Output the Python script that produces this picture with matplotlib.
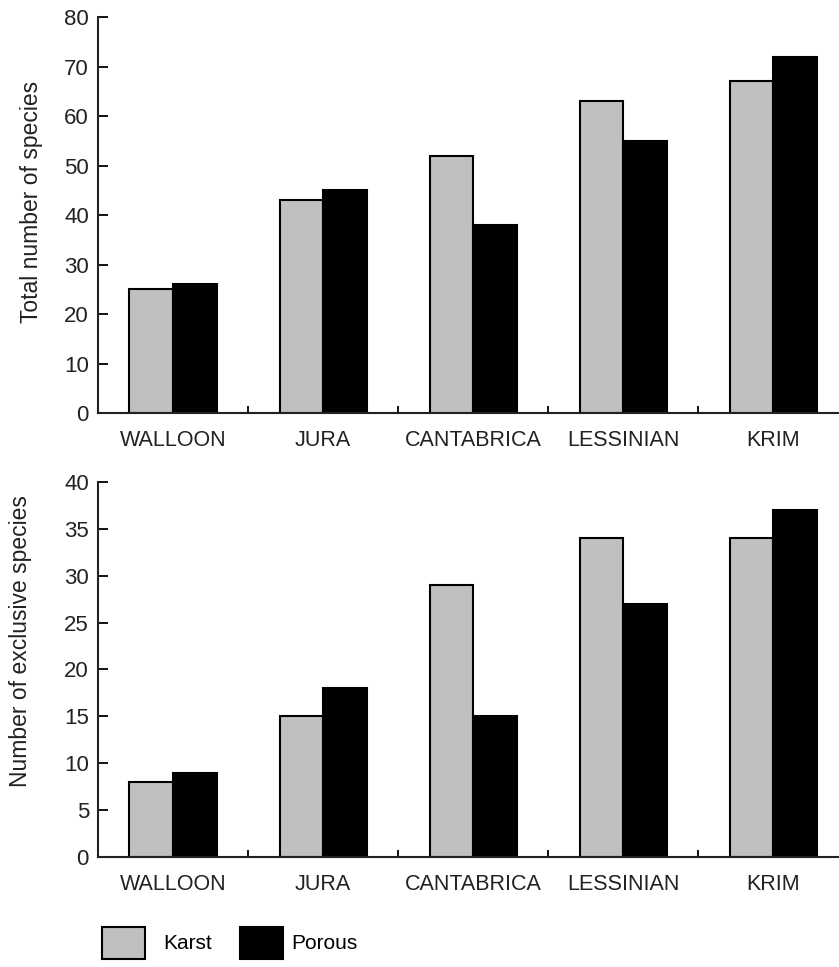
import matplotlib
matplotlib.use("Agg")
import matplotlib.pyplot as plt
from matplotlib.patches import Patch
import numpy as np

plt.rcParams['font.family'] = ['Liberation Sans', 'DejaVu Sans']

regions = ['WALLOON', 'JURA', 'CANTABRICA', 'LESSINIAN', 'KRIM']
total_karst = [25, 43, 52, 63, 67]
total_porous = [26, 45, 38, 55, 72]
excl_karst = [8, 15, 29, 34, 34]
excl_porous = [9, 18, 15, 27, 37]

grey = '#c0c0c0'
black = '#000000'
w = 0.29

fig = plt.figure(figsize=(8.39, 9.67), dpi=100)
ax1 = fig.add_axes([0.1168, 0.5729, 0.894, 0.4095])
ax2 = fig.add_axes([0.1168, 0.1138, 0.894, 0.3878])


def panel(ax, karst, porous, ymax, step, ylabel, lab_xy):
    x = np.arange(len(regions))
    ax.bar(x - w / 2, karst, w, color=grey, edgecolor='black', linewidth=1.5)
    ax.bar(x + w / 2, porous, w, color=black, edgecolor='black', linewidth=1.5)
    ax.set_xlim(-0.5, len(regions) - 0.5)
    ax.set_ylim(0, ymax)
    ax.set_yticks(np.arange(0, ymax + 1, step))
    ax.set_xticks(x)
    ax.set_xticklabels(regions)
    ax.set_xticks(x[:-1] + 0.5, minor=True)
    ax.tick_params(axis='x', which='major', length=0, pad=12, labelsize=15.5,
                   labelcolor='#222222')
    ax.tick_params(axis='x', which='minor', direction='in', length=5, width=1.3)
    ax.tick_params(axis='y', direction='in', length=7, width=1.3, pad=6.5,
                   labelsize=16, labelcolor='#222222')
    for s in ['top', 'right']:
        ax.spines[s].set_visible(False)
    for s in ['left', 'bottom']:
        ax.spines[s].set_linewidth(1.5)
        ax.spines[s].set_color('#222222')
    ax.set_ylabel(ylabel, fontsize=16.5, color='#222222')
    ax.yaxis.set_label_coords(*lab_xy)


panel(ax1, total_karst, total_porous, 80, 10, 'Total number of species', (-0.073, 0.533))
panel(ax2, excl_karst, excl_porous, 40, 5, 'Number of exclusive species', (-0.088, 0.576))

# two single-entry legends, the text gap differs between them in the original
leg_karst = Patch(facecolor=grey, edgecolor='black', linewidth=1.5, label='Karst')
leg_porous = Patch(facecolor=black, edgecolor='black', linewidth=1.5, label='Porous')
l1 = fig.legend(handles=[leg_karst], loc='center left', bbox_to_anchor=(0.121, 0.025),
                frameon=False, fontsize=15, handlelength=2.07, handleheight=2.0,
                handletextpad=0.87, borderaxespad=0, borderpad=0)
fig.legend(handles=[leg_porous], loc='center left', bbox_to_anchor=(0.286, 0.025),
           frameon=False, fontsize=15, handlelength=2.07, handleheight=2.0,
           handletextpad=0.4, borderaxespad=0, borderpad=0)

fig.savefig('out.png', dpi=100)
